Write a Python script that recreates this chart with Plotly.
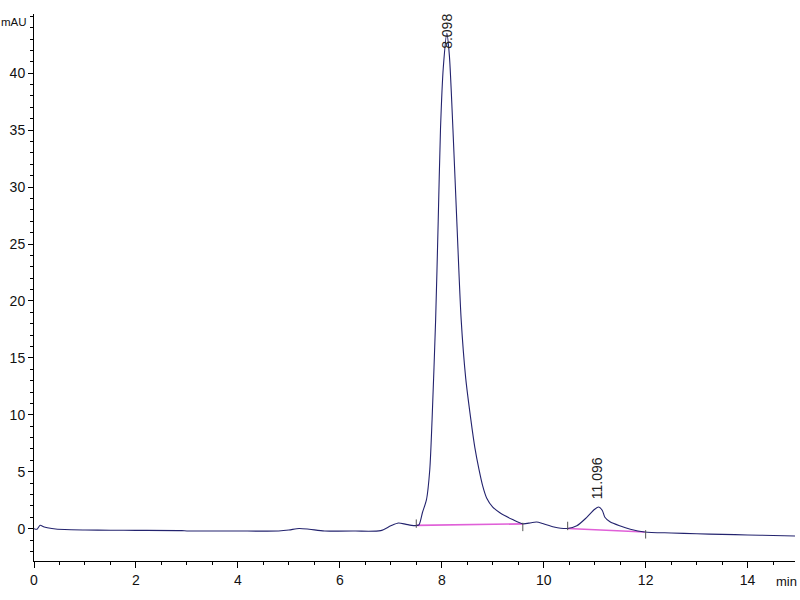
import plotly.graph_objects as go

# Chromatogram signal (min, mAU)
time_min = [0.00, 0.06, 0.12, 0.20, 0.35, 0.60, 1.00, 1.50, 2.00, 2.90, 3.00, 4.00, 4.80,
            5.00, 5.20, 5.40, 5.70, 6.30, 6.80, 7.00, 7.15, 7.30, 7.45, 7.55, 7.62, 7.70,
            7.765, 7.81, 7.88, 7.93, 7.975, 8.03, 8.10, 8.15, 8.22, 8.30, 8.38, 8.47, 8.57, 8.65, 8.73,
            8.80, 8.88, 9.00, 9.14, 9.39, 9.59, 9.75, 9.86, 9.98, 10.20, 10.47, 10.65, 10.84, 11.00,
            11.08, 11.15, 11.20, 11.30, 11.49, 11.70, 11.98, 12.50, 13.00, 13.50, 14.00, 14.50, 14.93]
signal_mau = [0.00, -0.05, 0.30, 0.15, 0.02, -0.08, -0.12, -0.14, -0.15, -0.17, -0.20, -0.21, -0.20,
              -0.12, 0.02, -0.05, -0.20, -0.21, -0.17, 0.25, 0.50, 0.38, 0.27, 0.32, 1.40, 2.55,
              5.20, 9.60, 18.40, 27.00, 35.10, 40.50, 43.50, 41.50, 35.00, 26.50, 18.40, 13.20, 9.60, 7.10, 5.20,
              3.80, 2.70, 1.90, 1.40, 0.80, 0.42, 0.52, 0.58, 0.45, 0.15, 0.02, 0.25, 0.97, 1.70,
              1.90, 1.60, 1.00, 0.60, 0.25, -0.05, -0.29, -0.38, -0.45, -0.50, -0.55, -0.60, -0.65]

# Integration baselines
base1_x = [7.50, 9.59]
base1_y = [0.29, 0.42]
base2_x = [10.47, 11.98]
base2_y = [0.02, -0.29]

# Peak boundary marks
mark_x = [7.50, 9.59, 10.47, 12.00]
mark_y = [0.44, 0.15, 0.24, -0.50]

# Peak labels
peak_labels = ["8.098", "11.096"]
peak_label_x = [8.098, 11.06]
peak_label_y = [43.7, 4.41]

x_ticks = [0, 2, 4, 6, 8, 10, 12, 14]
y_ticks = [0, 5, 10, 15, 20, 25, 30, 35, 40]

font_family = "Liberation Sans, Arial, sans-serif"
fsize = 14

fig = go.Figure()
fig.add_trace(go.Scatter(x=base1_x, y=base1_y, mode="lines",
                         line=dict(color="#e060d8", width=1.6), hoverinfo="skip"))
fig.add_trace(go.Scatter(x=base2_x, y=base2_y, mode="lines",
                         line=dict(color="#e060d8", width=1.6), hoverinfo="skip"))
fig.add_trace(go.Scatter(x=time_min, y=signal_mau, mode="lines",
                         line=dict(color="#23236e", width=1.1, shape="spline", smoothing=0.7)))
fig.add_trace(go.Scatter(x=mark_x, y=mark_y, mode="markers",
                         marker=dict(symbol="line-ns", size=6,
                                     line=dict(color="#555555", width=1))))

for txt, px, py in zip(peak_labels, peak_label_x, peak_label_y):
    fig.add_annotation(x=px, y=py, xref="x", yref="y", text=txt, showarrow=False,
                       textangle=-90, xanchor="center", yanchor="middle",
                       font=dict(family=font_family, size=14, color="#222222"))

fig.add_annotation(x=0, y=44.5, xref="paper", yref="y", text="mAU", showarrow=False,
                   xanchor="right", yanchor="middle", xshift=-5,
                   font=dict(family=font_family, size=11.5, color="#111111"))
fig.add_annotation(x=14.76, y=0, xref="x", yref="paper", text="min", showarrow=False,
                   xanchor="center", yanchor="middle", yshift=-20,
                   font=dict(family=font_family, size=13, color="#111111"))

axis_common = dict(showgrid=False, zeroline=False, showline=True, linecolor="#000000",
                   linewidth=1, ticks="outside", tickcolor="#000000", tickwidth=1,
                   automargin=False,
                   tickfont=dict(family=font_family, size=fsize, color="#111111"))

fig.update_xaxes(range=[0, 14.93], tickvals=x_ticks, ticklen=6,
                 minor=dict(dtick=0.5, ticks="outside", ticklen=3, tickcolor="#000000"),
                 **axis_common)
fig.update_yaxes(range=[-2.84, 45.2], tickvals=y_ticks, ticklen=5,
                 minor=dict(dtick=1, ticks="outside", ticklen=3, tickcolor="#000000"),
                 **axis_common)

fig.update_layout(width=800, height=600, showlegend=False,
                  margin=dict(l=34, r=5, t=14, b=39),
                  plot_bgcolor="white", paper_bgcolor="white")

fig.write_html("out.html", config={"displayModeBar": False},
               post_script="document.body.style.margin='0';document.body.style.overflow='hidden';")
